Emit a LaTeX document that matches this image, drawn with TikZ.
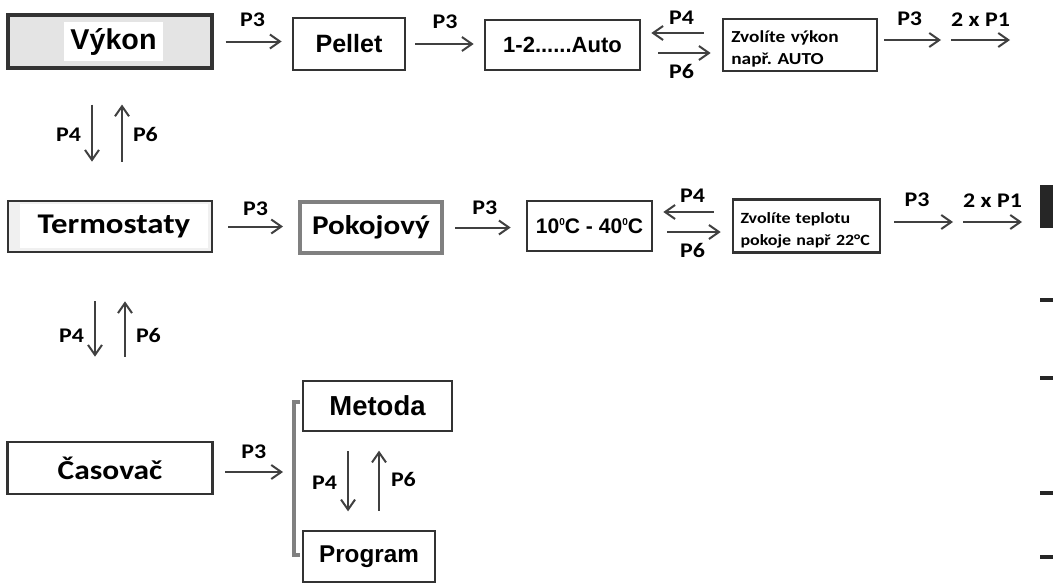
\documentclass[tikz,border=0pt]{standalone}
\usepackage{fontspec}
\setmainfont{Liberation Sans}
\newfontfamily\calibri{Carlito}[FakeStretch=1.15]
\usetikzlibrary{arrows.meta}
\definecolor{boxline}{HTML}{333333}
\definecolor{arrline}{HTML}{404040}
\definecolor{vykgray}{HTML}{E4E4E4}
\definecolor{pokgray}{HTML}{808080}
\newcommand{\stupen}{\raisebox{6.5pt}{\fontsize{7.5pt}{7.5pt}\selectfont 0}}
\frenchspacing
\begin{document}
\begin{tikzpicture}[x=.75pt,y=-.75pt,
  box/.style={draw=boxline,line width=2pt,inner sep=0pt},
  arr/.style={draw=arrline,line width=1.5pt,-{Straight Barb[length=7.5pt,width=10.5pt]}},
  lbl/.style={inner sep=0pt,font=\calibri\bfseries\fontsize{15.6pt}{17pt}\selectfont},
  ar/.style={font=\bfseries\fontsize{#1}{#1}\selectfont},
  cb/.style={font=\calibri\bfseries\fontsize{#1}{#1}\selectfont},
  pozn/.style={box,align=left,font=\calibri\bfseries\fontsize{#1}{16.5pt}\selectfont}]
\useasboundingbox (0,0) rectangle (1053,586);
% row 1
\node[box,fill=vykgray,line width=2.3pt,minimum width=153pt,minimum height=39.75pt] (vykonbg) at (110,41.5) {};
\node[fill=white,inner sep=0pt,minimum width=74.25pt,minimum height=29.25pt,ar=21.5pt] (vykon) at (113.5,41.5) {Výkon};
\node[box,minimum width=84pt,minimum height=39pt,ar=18.8pt] (pellet) at (349,44) {Pellet};
\node[box,minimum width=116.25pt,minimum height=37.5pt,ar=16.5pt] (auto) at (562.5,45) {1-2......Auto};
\node[pozn=12.6pt,text width=103pt,inner xsep=6.25pt,minimum height=39pt] (zv1) at (800,45) {\rule{0pt}{14pt}Zvolíte výkon\\\mbox{např. AUTO}};
\coordinate (q1) at (941,40);\coordinate (q2) at (951,40);\coordinate (q3) at (1010,40);
% row 2
\node[box,fill=gray!12,minimum width=153pt,minimum height=38.25pt] (termobg) at (110,226.5) {};
\node[fill=white,inner sep=0pt,minimum width=141pt,minimum height=33pt,cb=21.4pt] (termo) at (114,226) {Termostaty};
\node[box,draw=pokgray,line width=3pt,minimum width=106.5pt,minimum height=38.25pt,cb=20.3pt] (pokoj) at (371,227.5) {Pokojový};
\node[box,minimum width=93.75pt,minimum height=37.5pt,ar=15.8pt] (rozsah) at (589.5,226) {10\stupen C - 40\stupen C};
\node[pozn=11.7pt,text width=99pt,inner xsep=5.6pt,minimum height=39.75pt] (zv2) at (806.5,226) {\rule{0pt}{14pt}\mbox{Zvolíte teplotu}\\\mbox{pokoje např 22°C}};
\coordinate (r1) at (953,222);\coordinate (r2) at (963,222);\coordinate (r3) at (1022,222);
% row 3
\node[box,minimum width=153.75pt,minimum height=39pt,cb=20.5pt] (casovac) at (110,468) {Časovač};
\node[box,minimum width=111.75pt,minimum height=37.5pt,ar=20.6pt] (metoda) at (377.5,406) {Metoda};
\node[box,minimum width=99pt,minimum height=38.25pt,ar=18.2pt] (program) at (369,556.5) {Program};
\coordinate (brtop) at (294,402);\coordinate (brbot) at (294,555);\coordinate (brmid) at (294,472);
% connectors
\draw[arr,shorten <=9pt,shorten >=7.5pt] (vykonbg.east) -- (vykonbg.east -| pellet.west) node[lbl,midway,above=10.5pt]{P3};
\draw[arr,shorten <=6.75pt,shorten >=7.5pt] (pellet.east) -- (pellet.east -| auto.west) node[lbl,midway,above=10.5pt]{P3};
\draw[arr,shorten <=13.5pt,shorten >=7.5pt] ([yshift=9pt]zv1.west) -- ([yshift=9pt]auto.east) node[lbl,midway,above=6pt]{P4};
\draw[arr,shorten <=12.75pt,shorten >=8.25pt] ([yshift=-6pt]auto.east) -- ([yshift=-6pt]zv1.west) node[lbl,midway,below=7.5pt]{P6};
\draw[arr,shorten <=4.5pt] ([yshift=3.75pt]zv1.east) -- (q1) node[lbl,midway,above=9.75pt]{P3};
\draw[arr] (q2) -- (q3) node[lbl,midway,above=9.75pt]{2 x P1};
\draw[arr,shorten <=11.25pt,shorten >=11.25pt] (termobg.east) -- (termobg.east -| pokoj.west) node[lbl,midway,above=7.5pt]{P3};
\draw[arr,shorten <=8.25pt,shorten >=11.25pt] (pokoj.east) -- (pokoj.east -| rozsah.west) node[lbl,midway,above=9pt]{P3};
\draw[arr,shorten <=13.5pt,shorten >=7.5pt] ([yshift=10.5pt]zv2.west) -- ([yshift=10.5pt]rozsah.east) node[lbl,midway,above=6.75pt]{P4};
\draw[arr,shorten <=10.5pt,shorten >=8.25pt] ([yshift=-4.5pt]rozsah.east) -- ([yshift=-4.5pt]zv2.west) node[lbl,midway,below=7.5pt]{P6};
\draw[arr,shorten <=9.75pt] ([yshift=3pt]zv2.east) -- (r1) node[lbl,midway,above=10.5pt]{P3};
\draw[arr] (r2) -- (r3) node[lbl,midway,above=10.5pt]{2 x P1};
\draw[arr,shorten <=26.25pt,shorten >=28.5pt] ([xshift=-13.5pt]vykonbg.south) -- ([xshift=-13.5pt]termobg.north) node[lbl,midway,left=7.5pt]{P4};
\draw[arr,shorten <=28.5pt,shorten >=26.25pt] ([xshift=9pt]termobg.north) -- ([xshift=9pt]vykonbg.south) node[lbl,midway,right=7.5pt]{P6};
\draw[arr,shorten <=36pt,shorten >=63pt] ([xshift=-11.25pt]termobg.south) -- ([xshift=-11.25pt]casovac.north) node[lbl,pos=.44,left=7.5pt]{P4};
\draw[arr,shorten <=63pt,shorten >=36pt] ([xshift=11.25pt]casovac.north) -- ([xshift=11.25pt]termobg.south) node[lbl,pos=.56,right=7.5pt]{P6};
\draw[arr,shorten <=8.6pt,shorten >=8.25pt] ([yshift=-3pt]casovac.east) -- (brmid) node[lbl,midway,above=9pt]{P3};
\draw[pokgray,line width=2.6pt] ([xshift=4.5pt]brtop) -- (brtop) -- (brbot) -- ([xshift=4.5pt]brbot);
\draw[arr,shorten <=14.25pt,shorten >=15.75pt] ([xshift=-22.1pt]metoda.south) -- ++(0,100) node[lbl,midway,left=7.5pt]{P4};
\draw[arr,shorten <=14.25pt,shorten >=15.75pt] ([xshift=7.5pt]program.north) -- ++(0,-100) node[lbl,midway,right=8.25pt]{P6};
% marks at the right edge
\fill[black!85] (1040,185) rectangle (1053,228);
\foreach \yy in {300,378,493,557} \fill[black!85] (1040,\yy-2) rectangle (1053,\yy+2);
\end{tikzpicture}
\end{document}
